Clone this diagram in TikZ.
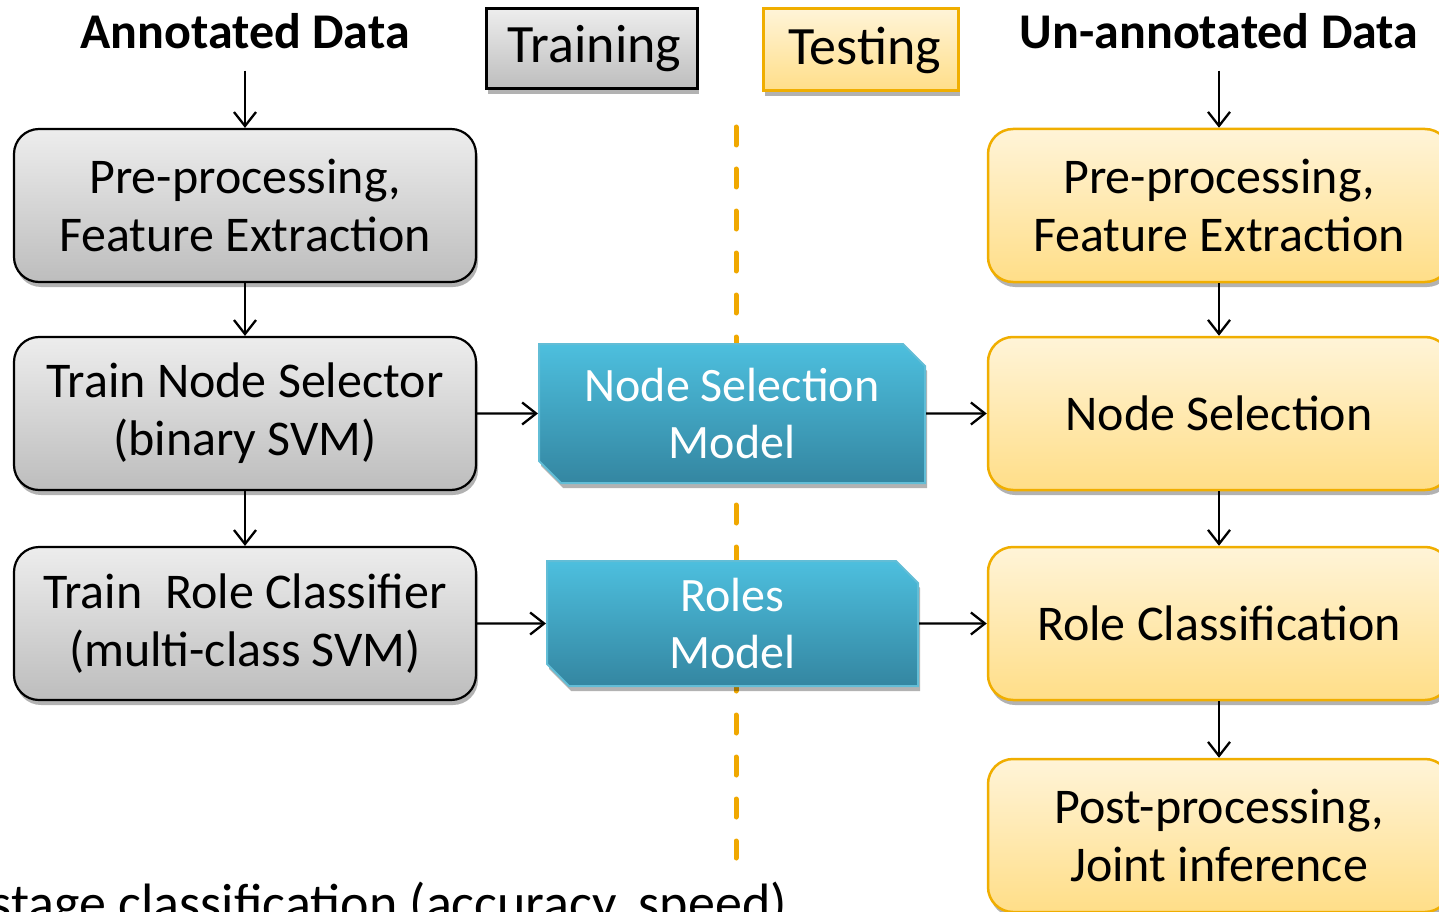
\documentclass[tikz,border=0pt]{standalone}
\usepackage{fontspec}
\setmainfont{Carlito}
\usetikzlibrary{shadows,arrows.meta,shapes.misc}
\definecolor{grayTop}{HTML}{EDEDED}
\definecolor{grayBot}{HTML}{BDBDBD}
\definecolor{yelTop}{HTML}{FFF4D8}
\definecolor{yelBot}{HTML}{FFDE88}
\definecolor{yelLine}{HTML}{F0AE00}
\definecolor{bluTop}{HTML}{4DBFDE}
\definecolor{bluBot}{HTML}{3486A1}
\definecolor{bluLine}{HTML}{62BDD6}
\definecolor{dashCol}{HTML}{F0A800}
\tikzset{
  x=1pt, y=-1pt,
  shad/.style={drop shadow={shadow xshift=2pt, shadow yshift=-5pt, opacity=0.3, fill=black}},
  boxtxt/.style={align=center, font=\fontsize{50}{58}\selectfont},
  graybox/.style={boxtxt, shad, rounded corners=25pt, draw=black, line width=2.2pt,
    top color=grayTop, bottom color=grayBot, minimum width=462pt, minimum height=153pt},
  yelbox/.style={boxtxt, shad, rounded corners=25pt, draw=yelLine, line width=2.5pt,
    top color=yelTop, bottom color=yelBot, minimum width=462pt, minimum height=153pt},
  blubox/.style={shad, chamfered rectangle, chamfered rectangle corners={north east,south west},
    chamfered rectangle xsep=11pt, chamfered rectangle ysep=11pt,
    draw=bluLine, line width=2pt, top color=bluTop, bottom color=bluBot,
    text=white, align=center, font=\fontsize{48}{57}\selectfont},
  header/.style={font=\bfseries\fontsize{50}{60}\selectfont, anchor=base, inner sep=21pt},
  arr/.style={draw=black, line width=2.3pt, -{Straight Barb[length=14pt,width=22pt]}},
}
\begin{document}
\begin{tikzpicture}
\useasboundingbox (0,0) rectangle (1439,912);
\clip (0,0) rectangle (1439,912);
% dashed separator
\draw[dashCol, line width=5pt, line cap=round, dash pattern=on 18pt off 24pt] (736,127) -- (736,858);
% headers
\node[header] (ann) at (245,49) {Annotated Data};
\node[header] (unann) at (1219,49) {Un-annotated Data};
\node[shad, draw=black, line width=3pt, top color=grayTop, bottom color=grayBot,
  minimum width=211pt, minimum height=80pt, inner sep=0pt,
  font=\fontsize{54}{60}\selectfont] (train) at (591.5,49) {\hspace{6pt}Training};
\node[shad, draw=yelLine, line width=3pt, top color=yelTop, bottom color=yelBot,
  minimum width=195pt, minimum height=82pt, inner sep=0pt,
  font=\fontsize{54}{60}\selectfont] (test) at (860.5,50) {\hspace{8pt}Testing};
% left column
\node[graybox] (l1) at (245,205.5) {Pre-processing,\\Feature Extraction};
\node[graybox] (l2) at (245,413.5) {Train Node Selector\\(binary SVM)};
\node[graybox] (l3) at (245,623.5) {Train\ \ Role Classifier\\(multi-class SVM)};
% models
\node[blubox, minimum width=386pt, minimum height=139pt] (ns) at (732,413.5) {Node Selection\\Model};
\node[blubox, minimum width=371pt, minimum height=125pt] (rm) at (732.5,623.5) {Roles\\Model};
% right column
\node[yelbox] (r1) at (1219,205.5) {Pre-processing,\\Feature Extraction};
\node[yelbox] (r2) at (1219,413.5) {Node Selection};
\node[yelbox] (r3) at (1219,623.5) {Role Classification};
\node[yelbox] (r4) at (1219,835.5) {Post-processing,\\Joint inference};
% arrows
\draw[arr] (ann.south -| l1.north) -- (l1.north);
\draw[arr] (l1) -- (l2);
\draw[arr] (l2) -- (l3);
\draw[arr] (unann.south -| r1.north) -- (r1.north);
\draw[arr] (r1) -- (r2);
\draw[arr] (r2) -- (r3);
\draw[arr] (r3) -- (r4);
\draw[arr] (l2) -- (ns);
\draw[arr] (ns) -- (r2);
\draw[arr] (l3) -- (rm);
\draw[arr] (rm) -- (r3);
% bottom text
\node[anchor=base east, inner sep=0pt, font=\fontsize{54}{60}\selectfont] (bottom) at (787,921) {stage classification (accuracy, speed)};
\end{tikzpicture}
\end{document}
